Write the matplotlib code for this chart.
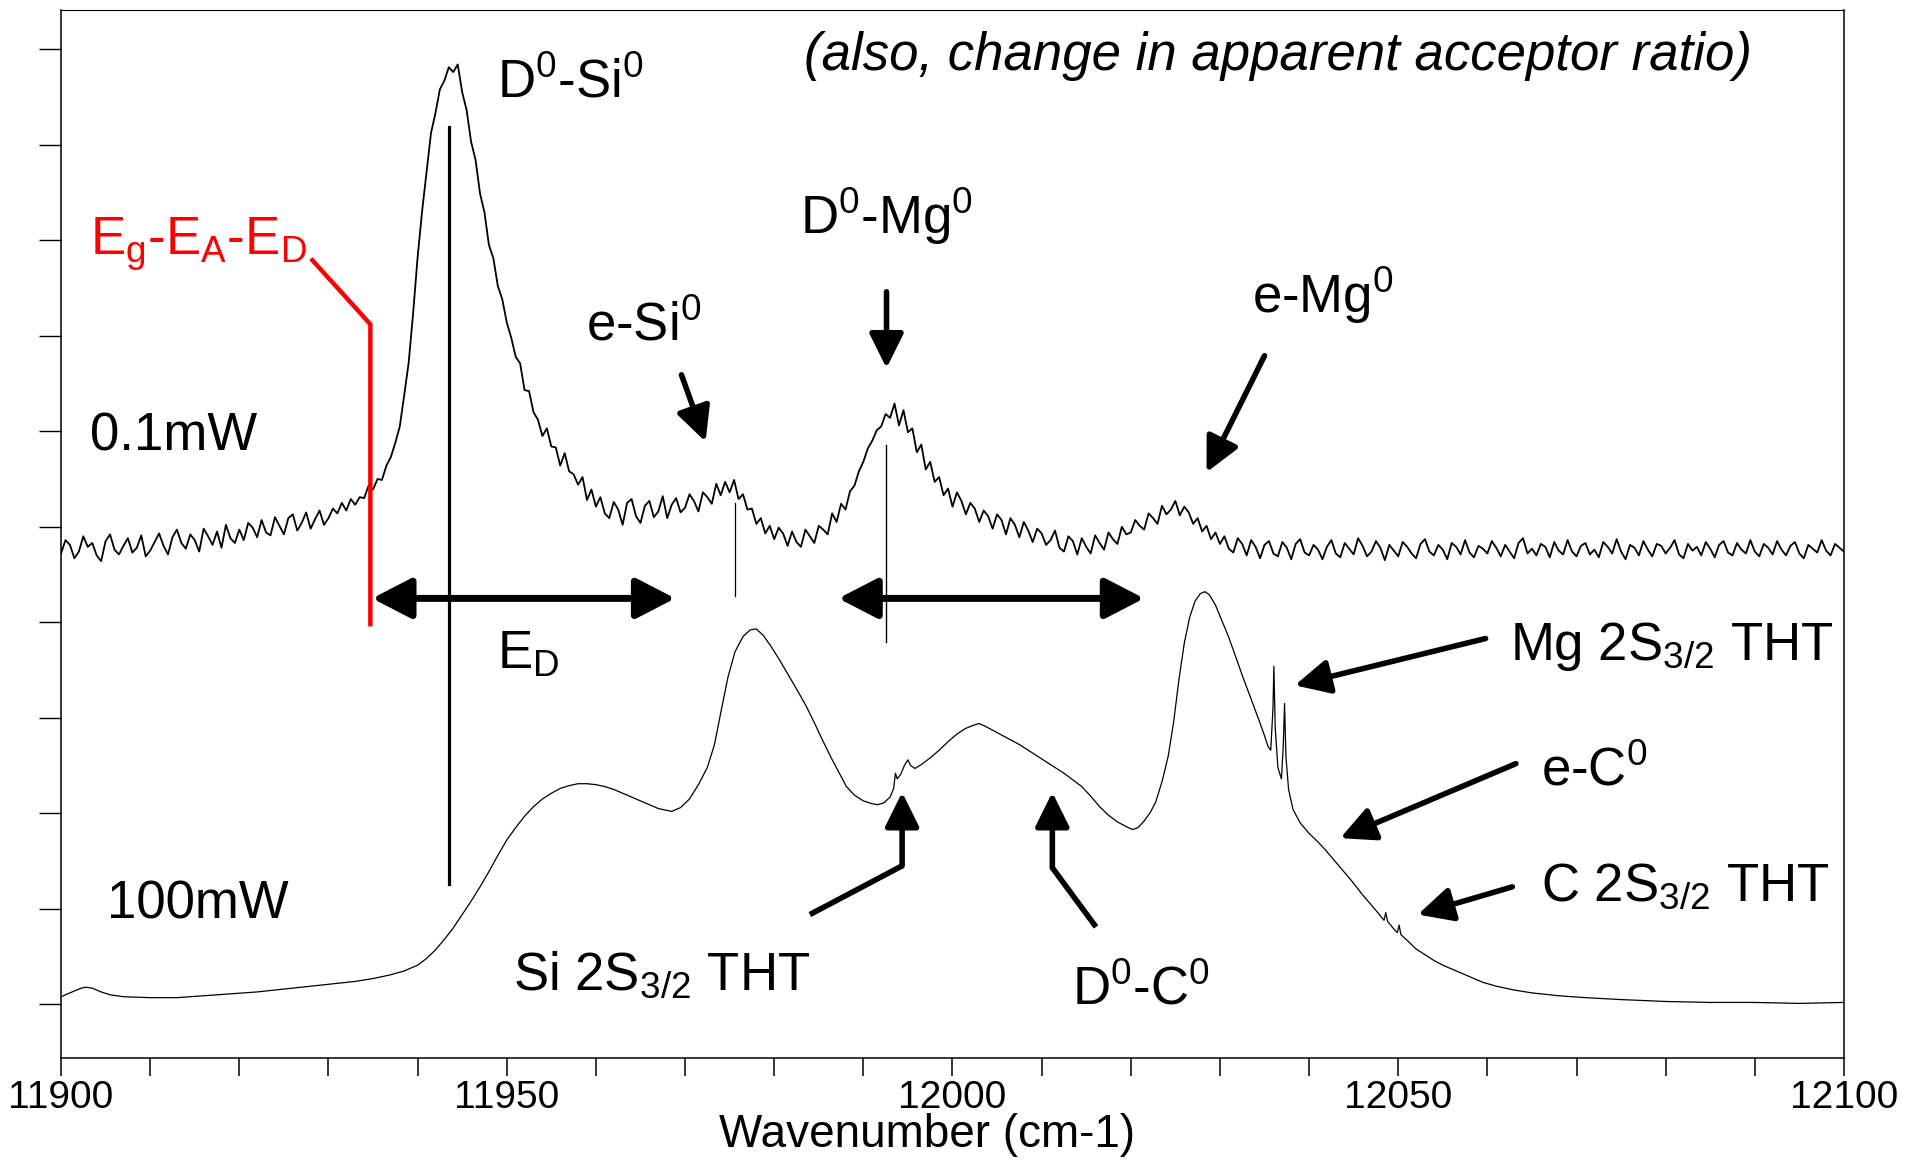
import numpy as np
import matplotlib.pyplot as plt
from matplotlib.ticker import MultipleLocator, FixedLocator, NullFormatter

plt.rcParams['font.family'] = ['Liberation Sans', 'DejaVu Sans']
plt.rcParams['mathtext.fontset'] = 'custom'
plt.rcParams['mathtext.rm'] = 'Liberation Sans'
plt.rcParams['mathtext.it'] = 'Liberation Sans:italic'

# --- data ---
# 0.1 mW trace, sampled every 0.5 cm-1 from 11900 to 12100
wn_start = 11900
wn_stop = 12100
wn_step = 0.5
low_power = [
    4.72, 4.86, 4.81, 4.67, 4.74, 4.90, 4.79, 4.83, 4.70, 4.64, 4.85, 4.92, 4.76, 4.71, 4.80, 4.88, 4.73, 4.78, 4.91, 4.69,
    4.75, 4.84, 4.93, 4.80, 4.71, 4.89, 4.97, 4.83, 4.77, 4.92, 4.86, 4.74, 4.98, 4.90, 4.81, 4.95, 4.78, 5.02, 4.88, 4.83,
    4.97, 4.86, 5.04, 4.99, 4.89, 5.07, 4.94, 4.91, 5.10, 5.01, 4.92, 5.09, 5.13, 4.96, 5.04, 5.15, 4.98, 5.08, 5.17, 5.02,
    5.09, 5.19, 5.14, 5.25, 5.17, 5.29, 5.23, 5.31, 5.30, 5.43, 5.39, 5.50, 5.49, 5.64, 5.73, 5.88, 6.05, 6.38, 6.72, 7.24,
    7.82, 8.30, 8.71, 9.12, 9.33, 9.58, 9.67, 9.81, 9.76, 9.84, 9.55, 9.36, 9.03, 8.84, 8.49, 8.29, 7.95, 7.81, 7.52, 7.38,
    7.14, 6.98, 6.78, 6.71, 6.43, 6.42, 6.20, 6.12, 5.95, 6.03, 5.84, 5.83, 5.64, 5.77, 5.58, 5.55, 5.44, 5.52, 5.28, 5.39,
    5.21, 5.31, 5.14, 5.09, 5.26, 5.18, 5.02, 5.25, 5.29, 5.11, 5.04, 5.22, 5.27, 5.10, 5.16, 5.32, 5.09, 5.23, 5.30, 5.15,
    5.20, 5.34, 5.27, 5.16, 5.36, 5.31, 5.24, 5.45, 5.33, 5.47, 5.36, 5.49, 5.29, 5.34, 5.18, 5.19, 5.03, 5.09, 4.93, 5.01,
    4.87, 4.99, 4.93, 4.80, 4.95, 4.84, 4.79, 4.97, 4.90, 4.83, 5.01, 4.97, 4.92, 5.14, 5.05, 5.24, 5.18, 5.37, 5.43, 5.58,
    5.68, 5.82, 5.90, 6.01, 6.05, 6.18, 6.14, 6.29, 6.06, 6.22, 5.99, 6.03, 5.78, 5.86, 5.60, 5.68, 5.47, 5.52, 5.33, 5.40,
    5.21, 5.36, 5.27, 5.13, 5.25, 5.19, 5.05, 5.17, 5.11, 4.98, 5.13, 5.07, 4.92, 5.09, 5.02, 4.89, 5.05, 4.96, 4.84, 4.98,
    4.93, 4.81, 4.86, 4.96, 4.78, 4.74, 4.90, 4.85, 4.71, 4.88, 4.79, 4.72, 4.91, 4.83, 4.76, 4.94, 4.87, 4.82, 5.00, 4.92,
    4.94, 5.07, 5.01, 4.97, 5.14, 5.09, 5.03, 5.22, 5.13, 5.18, 5.27, 5.12, 5.21, 5.15, 5.03, 5.09, 4.95, 5.01, 4.87, 4.94,
    4.82, 4.90, 4.77, 4.73, 4.88, 4.82, 4.70, 4.86, 4.79, 4.67, 4.81, 4.85, 4.72, 4.69, 4.84, 4.78, 4.66, 4.82, 4.87, 4.73,
    4.70, 4.81, 4.76, 4.66, 4.79, 4.86, 4.72, 4.68, 4.83, 4.77, 4.71, 4.88, 4.80, 4.69, 4.74, 4.85, 4.78, 4.65, 4.81, 4.75,
    4.69, 4.84, 4.79, 4.72, 4.67, 4.82, 4.87, 4.74, 4.70, 4.81, 4.76, 4.66, 4.83, 4.79, 4.71, 4.86, 4.73, 4.68, 4.80, 4.77,
    4.72, 4.85, 4.78, 4.69, 4.81, 4.74, 4.67, 4.83, 4.88, 4.72, 4.77, 4.70, 4.82, 4.79, 4.68, 4.84, 4.75, 4.71, 4.86, 4.74,
    4.69, 4.80, 4.83, 4.71, 4.76, 4.68, 4.84, 4.79, 4.72, 4.87, 4.74, 4.66, 4.81, 4.78, 4.70, 4.85, 4.76, 4.69, 4.82, 4.80,
    4.72, 4.78, 4.86, 4.71, 4.67, 4.82, 4.75, 4.79, 4.70, 4.84, 4.77, 4.68, 4.81, 4.85, 4.73, 4.70, 4.83, 4.76, 4.72, 4.86,
    4.74, 4.69, 4.82, 4.78, 4.71, 4.85, 4.76, 4.70, 4.80, 4.84, 4.72, 4.67, 4.81, 4.77, 4.73, 4.86, 4.75, 4.70, 4.82, 4.78,
    4.74,
]

# 100 mW trace (smooth, irregular sampling)
high_wn = [
    11900.0, 11901.0, 11902.0, 11902.7, 11903.5, 11904.5, 11905.5, 11907.0, 11910.0, 11913.0,
    11916.0, 11919.0, 11922.0, 11925.0, 11928.0, 11931.0, 11933.0, 11935.0, 11937.0, 11938.5,
    11940.0, 11941.0, 11942.0, 11943.0, 11944.0, 11945.0, 11946.0, 11947.0, 11948.0, 11949.0,
    11950.0, 11951.0, 11952.0, 11953.0, 11954.0, 11955.0, 11956.0, 11957.0, 11958.0, 11959.0,
    11960.0, 11961.0, 11962.0, 11963.0, 11964.0, 11965.0, 11966.0, 11967.0, 11968.0, 11968.5,
    11969.5, 11970.5, 11971.5, 11972.5, 11973.3, 11974.0, 11974.8, 11975.6, 11976.5, 11977.3,
    11978.0, 11978.8, 11979.7, 11980.7, 11981.7, 11982.7, 11983.6, 11984.6, 11985.5, 11986.4,
    11987.3, 11988.1, 11989.0, 11990.0, 11991.0, 11991.6, 11992.3, 11993.0, 11993.4, 11993.6,
    11993.8, 11994.2, 11994.6, 11995.0, 11995.3, 11995.8, 11996.5, 11997.5, 11998.5, 11999.5,
    12000.5, 12001.5, 12002.3, 12003.0, 12003.7, 12004.5, 12005.5, 12006.5, 12007.5, 12008.5,
    12009.5, 12010.5, 12011.5, 12012.5, 12013.5, 12014.5, 12015.5, 12016.5, 12017.5, 12018.5,
    12019.5, 12020.2, 12020.8, 12021.5, 12022.2, 12022.8, 12023.5, 12024.2, 12024.8, 12025.4,
    12026.0, 12026.6, 12027.2, 12027.8, 12028.3, 12028.8, 12029.5, 12030.2, 12031.0, 12031.8,
    12032.6, 12033.4, 12034.2, 12034.9, 12035.4, 12035.7, 12035.95, 12036.05, 12036.2, 12036.5,
    12036.9, 12037.1, 12037.25, 12037.4, 12037.7, 12038.2, 12039.0, 12040.0, 12041.0, 12041.8,
    12042.8, 12043.8, 12044.8, 12045.8, 12046.8, 12047.8, 12048.4, 12048.6, 12048.8, 12049.5,
    12049.9, 12050.1, 12050.3, 12051.0, 12052.0, 12053.0, 12054.0, 12055.0, 12056.5, 12058.0,
    12059.5, 12061.0, 12063.0, 12065.0, 12068.0, 12071.0, 12075.0, 12080.0, 12085.0, 12090.0,
    12095.0, 12100.0,
]
high_power = [
    0.08, 0.12, 0.16, 0.18, 0.17, 0.13, 0.10, 0.08, 0.07, 0.07,
    0.09, 0.11, 0.13, 0.16, 0.19, 0.22, 0.24, 0.27, 0.31, 0.35,
    0.41, 0.48, 0.57, 0.68, 0.80, 0.94, 1.08, 1.23, 1.39, 1.56,
    1.72, 1.85, 1.97, 2.07, 2.15, 2.21, 2.26, 2.29, 2.31, 2.31,
    2.30, 2.28, 2.25, 2.21, 2.17, 2.13, 2.09, 2.05, 2.03, 2.02,
    2.06, 2.15, 2.30, 2.48, 2.72, 3.05, 3.42, 3.69, 3.85, 3.92,
    3.93, 3.86, 3.74, 3.59, 3.43, 3.27, 3.12, 2.93, 2.75, 2.58,
    2.42, 2.28, 2.19, 2.13, 2.10, 2.09, 2.11, 2.17, 2.26, 2.42,
    2.36, 2.41, 2.50, 2.56, 2.50, 2.47, 2.51, 2.58, 2.66, 2.75,
    2.83, 2.89, 2.92, 2.94, 2.91, 2.87, 2.82, 2.77, 2.72, 2.66,
    2.60, 2.54, 2.48, 2.42, 2.35, 2.28, 2.18, 2.07, 1.98, 1.91,
    1.86, 1.83, 1.85, 1.92, 2.01, 2.12, 2.33, 2.60, 2.95, 3.40,
    3.78, 4.05, 4.22, 4.30, 4.32, 4.29, 4.18, 4.02, 3.84, 3.63,
    3.42, 3.22, 3.02, 2.84, 2.70, 2.66, 3.10, 3.54, 2.90, 2.48,
    2.36, 2.70, 3.15, 2.60, 2.25, 2.04, 1.90, 1.79, 1.70, 1.62,
    1.51, 1.40, 1.29, 1.17, 1.06, 0.95, 0.88, 0.96, 0.87, 0.79,
    0.75, 0.83, 0.73, 0.67, 0.58, 0.52, 0.46, 0.41, 0.35, 0.29,
    0.23, 0.19, 0.15, 0.12, 0.09, 0.07, 0.05, 0.03, 0.02, 0.02,
    0.01, 0.02,
]

fig = plt.figure(figsize=(19.25, 11.6), dpi=100)
ax = fig.add_axes([0.0317, 0.0879, 0.9262, 0.9035])

wn = np.arange(wn_start, wn_stop + wn_step / 2, wn_step)
ax.plot(wn, low_power, color='black', lw=1.3)
ax.plot(high_wn, high_power, color='black', lw=0.9)

ax.set_xlim(11900, 12100)
ax.set_ylim(-0.562, 10.41)

# axes / ticks
ax.xaxis.set_major_locator(MultipleLocator(50))
ax.xaxis.set_minor_locator(MultipleLocator(10))
ax.yaxis.set_major_locator(FixedLocator(range(11)))
ax.yaxis.set_major_formatter(NullFormatter())
ax.tick_params(axis='x', which='both', direction='out', length=13, width=1.1,
               labelsize=28, pad=3)
ax.tick_params(axis='y', which='major', direction='out', length=16, width=1.0)
for s in ['left', 'bottom', 'right']:
    ax.spines[s].set_linewidth(1.1)
ax.spines['top'].set_linewidth(0.8)

ax.set_xlabel('Wavenumber (cm-1)', fontsize=33)
ax.xaxis.label.set_va('center')
ax.xaxis.set_label_coords(0.486, -0.0735)

# marker lines
ax.plot([11943.5, 11943.5], [9.19, 1.26], color='black', lw=2.3)
ax.plot([11975.6, 11975.6], [5.25, 4.27], color='black', lw=0.9)
ax.plot([11992.5, 11992.5], [5.86, 3.79], color='black', lw=1.0)

# red Eg-EA-ED marker
red = '#ff0000'
ax.plot([11928.2, 11934.7, 11934.7], [7.79, 7.12, 3.98], color=red, lw=3.2,
        solid_joinstyle='miter')
ax.text(11903.2, 7.85, r'E$_\mathrm{g}$-E$_\mathrm{A}$-E$_\mathrm{D}$',
        color=red, fontsize=38, ha='left', va='baseline')


def arrow(tail, head, style='-|>', lw=4.0, hl=1.05, hw=0.52):
    ax.annotate('', xy=head, xytext=tail,
                arrowprops=dict(arrowstyle=f'{style},head_length={hl},head_width={hw}',
                                lw=lw, color='black', mutation_scale=20,
                                shrinkA=0, shrinkB=0))


# double arrows
arrow((11934.9, 4.25), (11968.9, 4.25), style='<|-|>', lw=5.0, hl=1.2, hw=0.62)
arrow((11987.2, 4.25), (12021.5, 4.25), style='<|-|>', lw=5.0, hl=1.2, hw=0.62)

# pointer arrows
arrow((11969.6, 6.59), (11972.3, 5.89))
arrow((11992.6, 7.46), (11992.6, 6.66))
arrow((12035.0, 6.79), (12028.5, 5.57))
arrow((12059.8, 3.83), (12038.4, 3.34))
arrow((12063.2, 2.52), (12043.5, 1.74))
arrow((12062.8, 1.23), (12052.2, 0.94))

ax.plot([11984.0, 11994.35], [0.94, 1.45], color='black', lw=4.0, solid_capstyle='butt')
arrow((11994.35, 1.45), (11994.35, 2.22))
ax.plot([12016.1, 12011.2], [0.81, 1.43], color='black', lw=4.0, solid_capstyle='butt')
arrow((12011.2, 1.43), (12011.2, 2.22))

# labels
fs = 38
ax.text(11983.3, 9.78, '(also, change in apparent acceptor ratio)', fontsize=fs,
        style='italic', ha='left', va='baseline')
ax.text(11948.9, 9.49, r'D$^0$-Si$^0$', fontsize=fs, ha='left', va='baseline')
ax.text(11958.9, 6.95, r'e-Si$^0$', fontsize=fs, ha='left', va='baseline')
ax.text(11982.9, 8.06, r'D$^0$-Mg$^0$', fontsize=fs, ha='left', va='baseline')
ax.text(12033.6, 7.24, r'e-Mg$^0$', fontsize=fs, ha='left', va='baseline')
ax.text(11903.2, 5.80, '0.1mW', fontsize=fs, ha='left', va='baseline')
ax.text(11905.2, 0.90, '100mW', fontsize=fs, ha='left', va='baseline')
ax.text(11948.9, 3.51, r'E$_\mathrm{D}$', fontsize=fs, ha='left', va='baseline')
ax.text(12062.5, 3.61, r'Mg 2S$_\mathrm{3/2}$ THT', fontsize=fs, ha='left', va='baseline')
ax.text(12066.0, 2.29, r'e-C$^0$', fontsize=fs, ha='left', va='baseline')
ax.text(12066.0, 1.09, r'C 2S$_\mathrm{3/2}$ THT', fontsize=fs, ha='left', va='baseline')
ax.text(11950.7, 0.15, r'Si 2S$_\mathrm{3/2}$ THT', fontsize=fs, ha='left', va='baseline')
ax.text(12013.4, 0.00, r'D$^0$-C$^0$', fontsize=fs, ha='left', va='baseline')

fig.savefig('out.png', dpi=100)
